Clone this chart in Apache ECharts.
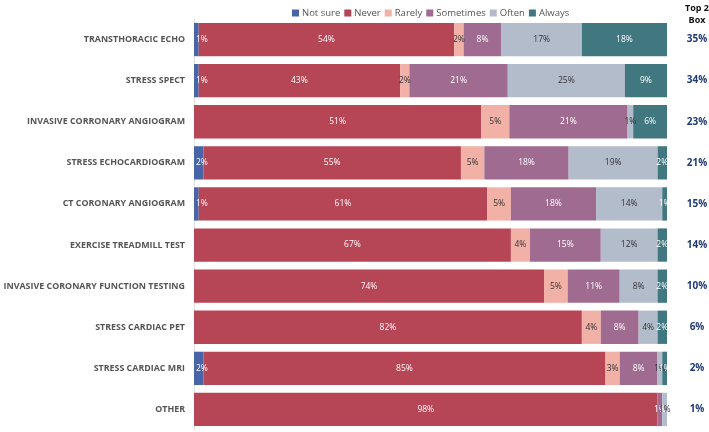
<!DOCTYPE html>
<html>
<head>
<meta charset="utf-8">
<script src="https://cdn.jsdelivr.net/npm/echarts@6/dist/echarts.min.js"></script>
<style>
html,body{margin:0;padding:0;background:#fff;}
#chart{width:709px;height:432px;}
</style>
</head>
<body>
<div id="chart"></div>
<script>
const categories = [
  'TRANSTHORACIC ECHO',
  'STRESS SPECT',
  'INVASIVE CORRONARY ANGIOGRAM',
  'STRESS ECHOCARDIOGRAM',
  'CT CORONARY ANGIOGRAM',
  'EXERCISE TREADMILL TEST',
  'INVASIVE CORONARY FUNCTION TESTING',
  'STRESS CARDIAC PET',
  'STRESS CARDIAC MRI',
  'OTHER'
];
const seriesNames = ['Not sure', 'Never', 'Rarely', 'Sometimes', 'Often', 'Always'];
const notSure   = [1, 1, 0, 2, 1, 0, 0, 0, 2, 0];
const never     = [54, 43, 51, 55, 61, 67, 74, 82, 85, 98];
const rarely    = [2, 2, 5, 5, 5, 4, 5, 4, 3, 0];
const sometimes = [8, 21, 21, 18, 18, 15, 11, 8, 8, 1];
const often     = [17, 25, 1, 19, 14, 12, 8, 4, 1, 1];
const always    = [18, 9, 6, 2, 1, 2, 2, 2, 1, 0];
const top2Box   = ['35%', '34%', '23%', '21%', '15%', '14%', '10%', '6%', '2%', '1%'];

const colors = ['#4a64a8', '#b64556', '#f2b1a7', '#a06b90', '#b3bccb', '#41777f'];
const labelColors = ['#fff', '#fff', '#333', '#fff', '#333', '#fff'];
const allSeries = [notSure, never, rarely, sometimes, often, always];
const totals = categories.map((c, i) => allSeries.reduce((s, arr) => s + arr[i], 0));

const chart = echarts.init(document.getElementById('chart'));
const option = {
  animation: false,
  color: colors,
  textStyle: {fontFamily: 'Open Sans'},
  legend: {
    data: seriesNames,
    top: 3,
    left: 287,
    itemWidth: 7,
    itemHeight: 7,
    itemGap: 4,
    icon: 'rect',
    textStyle: {fontSize: 9.5, color: '#555', fontFamily: 'Open Sans', padding: [0, 0, 0, -2]}
  },
  graphic: [{
    type: 'text',
    x: 697,
    y: 2,
    style: {text: 'Top 2\nBox', font: 'bold 9px "Open Sans"', fill: '#111', align: 'center', lineHeight: 12}
  }],
  grid: {left: 194, right: 42, top: 19, bottom: 2, containLabel: false, outerBoundsMode: 'none'},
  xAxis: {type: 'value', min: 0, max: 100, show: false},
  yAxis: [{
    type: 'category',
    data: categories,
    inverse: true,
    axisLine: {show: true, lineStyle: {color: '#e0e0e0', width: 1}},
    axisTick: {show: false},
    axisLabel: {fontSize: 8.9, fontWeight: 'bold', color: '#555', margin: 9, fontFamily: 'Open Sans'}
  }, {
    type: 'category',
    data: top2Box,
    inverse: true,
    position: 'right',
    axisLine: {show: false},
    axisTick: {show: false},
    axisLabel: {fontSize: 10, fontWeight: 'bold', color: '#1f3a73', margin: 30, align: 'center', fontFamily: 'Open Sans'}
  }],
  series: seriesNames.map((name, si) => ({
    name: name,
    type: 'bar',
    stack: 'total',
    barCategoryGap: '19%',
    data: allSeries[si].map((v, i) => ({value: v / totals[i] * 100, raw: v})),
    label: {
      show: true,
      position: si === 0 ? 'insideLeft' : 'inside',
      distance: 2,
      fontSize: 8.5,
      color: labelColors[si],
      fontFamily: 'Open Sans',
      formatter: p => p.data.raw > 0 ? p.data.raw + '%' : ''
    }
  }))
};
chart.setOption(option);
</script>
</body>
</html>
